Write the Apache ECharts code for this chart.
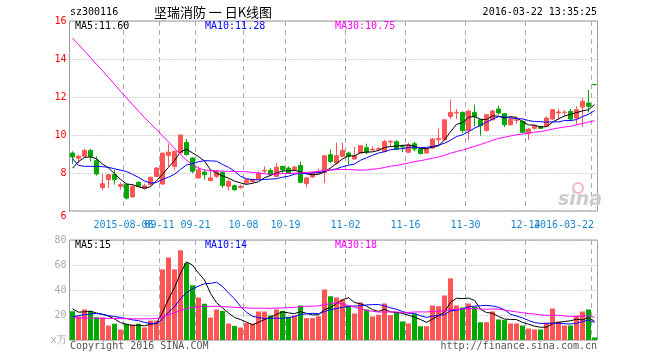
<!DOCTYPE html>
<html><head><meta charset="utf-8">
<script src="https://cdn.jsdelivr.net/npm/echarts@6/dist/echarts.min.js"></script>
<style>html,body{margin:0;padding:0;background:#fff}#c{width:660px;height:360px}</style>
</head><body><div id="c"></div>
<script>
const dates = [
"2015-07-24","2015-07-27","2015-07-28","2015-07-29","2015-07-30","2015-07-31","2015-08-03","2015-08-04","2015-08-05","2015-08-06",
"2015-09-02","2015-09-07","2015-09-08","2015-09-09","2015-09-10",
"2015-09-11","2015-09-14","2015-09-15","2015-09-16","2015-09-17","2015-09-18","2015-09-21",
"2015-09-22","2015-09-23","2015-09-24","2015-09-25","2015-09-28","2015-09-29","2015-09-30",
"2015-10-08","2015-10-09","2015-10-12","2015-10-13","2015-10-14","2015-10-15","2015-10-16",
"2015-10-19","2015-10-20","2015-10-21","2015-10-22","2015-10-23","2015-10-26","2015-10-27","2015-10-28","2015-10-29","2015-10-30",
"2015-11-02","2015-11-03","2015-11-04","2015-11-05","2015-11-06","2015-11-09","2015-11-10","2015-11-11","2015-11-12","2015-11-13",
"2015-11-16","2015-11-17","2015-11-18","2015-11-19","2015-11-20","2015-11-23","2015-11-24","2015-11-25","2015-11-26","2015-11-27",
"2015-11-30","2015-12-01","2015-12-02","2015-12-03","2015-12-04","2015-12-07","2015-12-08","2015-12-09","2015-12-10","2015-12-11",
"2015-12-14","2015-12-15","2015-12-16","2015-12-17","2015-12-18","2015-12-21","2015-12-22","2015-12-23","2015-12-24","2015-12-25",
"2015-12-28","2016-03-22"];

const opens = [9.05,8.77,8.88,9.19,8.65,7.23,7.65,7.91,7.30,7.39,
6.74,7.51,7.19,7.39,7.82,7.42,8.93,8.35,9.05,9.61,
8.79,7.74,8.05,7.60,7.82,8.03,7.30,7.33,7.24,7.47,
7.55,7.68,8.10,8.14,7.82,8.35,8.26,8.17,8.39,7.44,
7.79,8.00,8.03,8.96,8.53,8.88,9.05,8.74,9.05,9.33,
9.21,9.25,9.14,9.63,9.65,9.40,9.09,9.54,9.26,9.05,
9.31,9.75,9.75,10.98,11.16,11.19,10.24,11.19,10.80,10.24,
10.80,11.37,11.12,10.54,10.77,10.72,10.10,10.35,10.45,10.45,
10.84,11.16,11.19,11.24,10.89,11.47,11.68,12.65];
const closes = [8.84,8.88,9.19,8.88,7.95,7.44,7.91,7.65,7.40,6.68,
7.30,7.30,7.33,7.77,8.26,9.05,9.10,9.14,10.00,8.96,
8.09,8.17,7.91,7.74,8.09,7.35,7.56,7.12,7.30,7.65,
7.65,8.00,8.14,7.91,8.31,8.17,8.00,8.31,7.51,7.74,
8.00,8.09,8.91,8.61,8.91,9.19,8.88,8.91,9.44,9.09,
9.25,9.28,9.65,9.67,9.26,9.37,9.47,9.26,9.02,9.26,
9.79,9.82,10.80,11.19,11.20,10.24,11.26,10.98,10.49,11.07,
11.26,11.16,10.54,10.84,10.80,10.14,10.31,10.49,10.35,10.89,
11.33,11.21,11.20,10.84,11.33,11.77,11.51,12.65];
const lows = [8.47,8.53,8.84,8.61,7.86,7.09,7.21,7.39,7.12,6.60,
6.72,7.26,7.12,7.33,7.79,7.37,8.35,8.17,9.05,8.93,
8.00,7.70,7.65,7.56,7.74,7.21,7.09,7.07,7.16,7.39,
7.47,7.65,8.00,7.86,7.79,8.00,7.96,8.09,7.47,7.24,
7.74,7.95,7.47,8.53,8.44,8.84,8.44,8.70,9.02,8.98,
9.14,9.16,9.09,9.40,9.23,9.10,9.05,9.14,8.98,9.02,
9.28,9.45,9.70,10.84,10.84,10.10,9.75,10.45,9.96,10.19,
10.77,11.07,10.42,10.49,10.60,10.10,9.75,10.28,10.31,10.42,
10.80,10.80,10.98,10.72,10.54,10.42,11.19,12.65];
const highs = [9.14,8.96,9.26,9.26,8.88,7.95,7.91,8.17,7.51,7.47,
7.39,7.56,7.44,7.82,8.30,9.05,9.54,9.19,10.00,9.79,
8.82,8.35,8.17,8.17,8.17,8.09,7.65,7.39,7.39,7.68,
7.68,8.09,8.35,8.26,8.52,8.35,8.35,8.39,8.60,7.79,
8.09,8.21,8.91,9.23,9.58,9.61,9.12,9.37,9.44,9.54,
9.40,9.37,9.75,9.72,9.72,9.49,9.58,9.65,9.31,9.30,
9.84,10.35,10.80,11.86,11.37,11.24,11.33,11.60,10.84,11.07,
11.33,11.54,11.16,10.98,10.98,10.77,10.37,10.54,10.49,10.98,
11.37,11.37,11.30,11.37,11.51,11.95,12.38,12.65];

const ma5 = [8.25,8.60,8.82,8.85,8.75,8.47,8.27,7.96,7.67,7.42,
7.39,7.27,7.20,7.28,7.59,7.94,8.30,8.66,9.11,9.25,
9.06,8.87,8.63,8.17,8.00,7.85,7.73,7.57,7.48,7.40,
7.46,7.54,7.75,7.87,8.00,8.11,8.11,8.14,8.06,7.95,
7.91,7.93,8.05,8.27,8.50,8.74,8.90,8.90,9.07,9.10,
9.11,9.19,9.34,9.39,9.42,9.45,9.48,9.41,9.28,9.28,
9.36,9.43,9.74,10.17,10.56,10.65,10.94,10.97,10.83,10.81,
11.01,10.99,10.90,10.97,10.92,10.70,10.53,10.52,10.42,10.44,
10.67,10.85,11.00,11.09,11.18,11.27,11.33,11.60];
const ma10 = [8.75,8.40,8.35,8.35,8.35,8.33,8.30,8.22,8.15,8.08,
7.93,7.77,7.58,7.47,7.50,7.67,7.78,7.93,8.19,8.42,
8.50,8.59,8.65,8.64,8.62,8.45,8.30,8.10,7.83,7.70,
7.65,7.64,7.66,7.68,7.70,7.78,7.83,7.94,7.97,7.97,
8.01,8.02,8.09,8.16,8.22,8.33,8.41,8.47,8.67,8.80,
8.93,9.05,9.12,9.23,9.26,9.28,9.34,9.37,9.33,9.35,
9.40,9.46,9.57,9.72,9.92,10.01,10.18,10.36,10.50,10.68,
10.83,10.97,10.94,10.90,10.86,10.85,10.76,10.71,10.70,10.68,
10.69,10.69,10.76,10.76,10.81,10.97,11.09,11.28];
const ma30 = [15.10,14.76,14.42,14.07,13.72,13.38,13.03,12.67,12.31,11.96,
11.60,11.26,10.92,10.60,10.28,9.96,9.63,9.30,8.98,8.68,
8.44,8.25,8.16,8.13,8.11,8.10,8.09,8.08,8.07,8.07,
8.03,8.00,7.96,7.93,7.94,7.97,7.97,7.99,8.00,8.03,
8.05,8.08,8.13,8.16,8.18,8.19,8.18,8.17,8.15,8.16,
8.20,8.23,8.29,8.36,8.39,8.46,8.53,8.60,8.65,8.71,
8.78,8.84,8.93,9.04,9.13,9.20,9.31,9.40,9.50,9.61,
9.72,9.82,9.88,9.95,10.01,10.05,10.09,10.15,10.18,10.24,
10.31,10.37,10.42,10.46,10.53,10.61,10.68,10.75];

const volumes = [23,19,24.4,23.3,18.3,18,11.6,13,8.4,12.7,
12.3,13,10,15.5,15.5,56.5,66,56.5,71.8,61.5,
43.8,34,29,18,24.4,23.3,13.2,11.3,10,13.5,
13,22.8,22.8,19.6,24.4,23.3,18.5,19.6,27.6,17.5,
17.5,19,40.4,35,34,32.4,27.3,21.2,30,24.4,
18.8,20.2,29.2,19.8,22.3,14.8,13.2,20.7,11,11,
27.6,27,35.6,49.3,27.6,26,29.2,26.5,14.2,14.2,
22.8,16.4,15.9,13.2,13.2,11.6,9.2,8.5,8.4,13.8,
25.2,14.8,11.6,11.6,19.6,22.8,24.4,2];
const vma5 = [24.9,22.3,22.5,23.0,21.6,20.6,19.1,16.8,13.9,12.7,
11.6,11.9,11.3,12.7,13.3,22.1,32.7,42.0,53.3,62.5,
59.9,53.5,48.0,37.3,29.8,25.7,21.6,18.0,16.4,14.3,
12.2,14.1,16.4,18.3,20.5,22.6,21.7,21.1,22.7,21.3,
20.1,20.2,24.4,25.9,29.2,32.2,33.8,30.0,29.0,27.1,
24.3,22.9,24.5,22.5,22.1,21.3,19.9,18.2,16.4,14.1,
16.7,19.5,22.4,30.1,33.4,33.1,33.5,31.7,24.7,22.0,
21.4,18.8,16.7,16.5,16.3,14.1,12.6,11.1,10.2,10.3,
13.0,14.1,14.8,15.4,16.6,16.1,18.0,15.0];
const vma10 = [18.5,19.5,20.3,20.8,21.2,20.5,19.5,18.8,18.0,17.2,
16.1,15.5,14.1,13.3,13.0,16.9,22.3,26.6,33.0,37.9,
41.0,43.1,45.0,45.3,46.2,42.8,37.6,33.0,26.9,22.1,
19.0,17.9,17.2,17.4,17.4,17.4,17.9,18.8,20.5,20.9,
21.4,21.0,22.7,24.3,25.2,26.2,27.0,27.2,27.4,28.1,
28.3,28.4,27.3,25.7,24.6,22.8,21.4,21.3,19.4,18.1,
19.0,19.7,20.3,23.3,23.8,24.9,26.5,27.1,27.4,27.7,
27.2,26.2,24.2,20.6,19.2,17.7,15.7,13.9,13.3,13.3,
13.5,13.4,13.0,12.8,13.4,14.6,16.1,14.0];
const vma30 = [17.8,17.6,17.6,17.5,17.4,17.4,17.3,17.2,17.1,17.0,
17.0,16.9,16.9,17.0,17.2,18.6,20.3,21.8,23.6,25.2,
26.0,26.6,27.0,26.9,27.0,26.8,26.4,26.1,25.9,25.7,
25.4,25.5,25.4,25.3,25.5,25.7,25.9,26.1,26.8,26.9,
27.1,27.3,28.3,29.0,29.6,28.8,27.5,26.3,24.9,23.7,
22.9,22.4,22.4,22.5,22.4,22.1,22.1,22.4,22.5,22.4,
22.9,23.0,23.4,24.4,24.5,24.6,25.0,25.2,24.8,24.6,
24.8,24.7,23.9,23.2,22.5,21.8,21.2,20.8,20.1,19.7,
19.9,19.7,19.2,18.9,18.8,19.1,19.4,18.0];

const gridIdx = [9,15,21,29,36,46,56,66,76,87];
const shortLabelIdx = [15,21,29,36,46,56,66,76];
const fullDateLabelIdx = [9,87];
const priceAxis = {min:6, max:16, step:2};
const volAxis = {min:0, max:80, step:20};
const headerTexts = {code:'sz300116', title:'坚瑞消防 一 日K线图', time:'2016-03-22 13:35:25'};
const priceLegend = ['MA5:11.60','MA10:11.28','MA30:10.75'];
const volLegend = ['MA5:15','MA10:14','MA30:18'];

const UP = '#ff5555', DOWN = '#00a800';
const C5 = '#000000', C10 = '#0000ff', C30 = '#ff00ff';
const MONO = '"DejaVu Sans Mono", monospace';
const GRID = '#aaaaaa', FRAME = '#999999';

const isDown = i => closes[i] <= opens[i];
const candleData = opens.map((o, i) => {
  const v = [o, closes[i], lows[i], highs[i]];
  if (o === closes[i]) return {value: v, itemStyle: {color: DOWN, borderColor: DOWN, color0: DOWN, borderColor0: DOWN}};
  return v;
});
const volData = volumes.map((v, i) => ({value: v, itemStyle: {color: isDown(i) ? DOWN : UP}}));

const xLabelColor = '#1b86d0';
const lineS = (name, data, color, xi, yi) => ({
  name, type: 'line', data, xAxisIndex: xi, yAxisIndex: yi, showSymbol: false, symbol: 'none',
  lineStyle: {color, width: 1}, itemStyle: {color}, z: 5, silent: true, animation: false
});
const labelRich = {
  c: {padding: [0, 6, 0, 0], fontFamily: MONO, fontSize: 10, color: xLabelColor},
  r: {padding: [0, 61, 0, 0], fontFamily: MONO, fontSize: 10, color: xLabelColor}
};
const fmtLabel = (val) => {
  const idx = dates.indexOf(val);
  if (idx === dates.length - 1) return '{r|' + val + '}';
  if (fullDateLabelIdx.includes(idx)) return '{c|' + val + '}';
  return '{c|' + val.slice(5) + '}';
};
const labelAxis = (idxList, withSplit) => ({
  type: 'category', gridIndex: 0, position: 'bottom', offset: 0, data: dates, boundaryGap: true,
  axisLine: {show: false}, axisTick: {show: false},
  axisLabel: {interval: (i) => idxList.includes(i), hideOverlap: false, margin: 9,
    fontFamily: MONO, fontSize: 10, color: xLabelColor, formatter: fmtLabel, rich: labelRich},
  splitLine: withSplit ? {show: true, interval: (i) => gridIdx.includes(i), lineStyle: {color: GRID, width: 1, type: [5, 4]}} : {show: false}
});

const chart = echarts.init(document.getElementById('c'), null, {renderer: 'canvas'});
const txt = (text, x, y, color, align, font) => ({
  type: 'text', x, y, silent: true, z: 10,
  style: {text, fill: color, font: font || ('10px ' + MONO), align: align || 'left', verticalAlign: 'middle'}
});

chart.setOption({
  animation: false,
  backgroundColor: '#ffffff',
  grid: [
    {left: 69.5, top: 21, width: 528, height: 190, show: true, borderColor: FRAME, borderWidth: 1, backgroundColor: 'transparent'},
    {left: 69.5, top: 240, width: 528, height: 100, show: true, borderColor: FRAME, borderWidth: 1, backgroundColor: 'transparent'}
  ],
  xAxis: [
    labelAxis(shortLabelIdx, true),
    {type: 'category', gridIndex: 1, data: dates, boundaryGap: true,
      axisLine: {show: false}, axisTick: {show: false}, axisLabel: {show: false},
      splitLine: {show: true, interval: (i) => gridIdx.includes(i), lineStyle: {color: GRID, width: 1, type: [5, 4]}}
    },
    labelAxis(fullDateLabelIdx, false)
  ],
  yAxis: [
    {type: 'value', gridIndex: 0, min: priceAxis.min, max: priceAxis.max, interval: priceAxis.step, scale: false,
      axisLine: {show: false}, axisTick: {show: false},
      axisLabel: {margin: 3, fontFamily: MONO, fontSize: 10, color: '#ff0000',
        formatter: v => v === priceAxis.min ? '{d|' + v + '}' : '{n|' + v + '}',
        rich: {d: {padding: [10, 0, 0, 0], fontFamily: MONO, fontSize: 10, color: '#ff0000'},
               n: {fontFamily: MONO, fontSize: 10, color: '#ff0000'}}},
      splitLine: {show: true, lineStyle: {color: GRID, width: 1, type: [1, 2]}}
    },
    {type: 'value', gridIndex: 1, min: volAxis.min, max: volAxis.max, interval: volAxis.step,
      axisLine: {show: false}, axisTick: {show: false},
      axisLabel: {margin: 3, fontFamily: MONO, fontSize: 10, color: '#aaaaaa',
        formatter: v => v === 0 ? 'x万' : String(v)},
      splitLine: {show: true, lineStyle: {color: GRID, width: 1, type: [1, 2]}}
    }
  ],
  series: [
    {name: 'K', type: 'candlestick', xAxisIndex: 0, yAxisIndex: 0, data: candleData, barWidth: 4,
      itemStyle: {color: UP, color0: DOWN, borderColor: UP, borderColor0: DOWN, borderWidth: 1}, z: 3, silent: true},
    lineS('MA5', ma5, C5, 0, 0),
    lineS('MA10', ma10, C10, 0, 0),
    lineS('MA30', ma30, C30, 0, 0),
    {name: 'VOL', type: 'bar', xAxisIndex: 1, yAxisIndex: 1, data: volData, barWidth: 5, z: 3, silent: true},
    lineS('VMA5', vma5, C5, 1, 1),
    lineS('VMA10', vma10, C10, 1, 1),
    lineS('VMA30', vma30, C30, 1, 1)
  ],
  graphic: [
    txt(headerTexts.code, 70, 12.5, '#000'),
    txt(headerTexts.title, 213, 12, '#000', 'center', '13px "Noto Sans CJK SC"'),
    txt(headerTexts.time, 597, 12.5, '#000', 'right'),
    txt(priceLegend[0], 75, 26.5, C5),
    txt(priceLegend[1], 205, 26.5, C10),
    txt(priceLegend[2], 335, 26.5, C30),
    txt(volLegend[0], 75, 245.5, C5),
    txt(volLegend[1], 205, 245.5, C10),
    txt(volLegend[2], 335, 245.5, C30),
    txt('Copyright 2016 SINA.COM', 70, 346.5, '#555'),
    txt('http://finance.sina.com.cn', 597, 346.5, '#555', 'right'),
    {type: 'circle', shape: {cx: 578, cy: 188, r: 5}, style: {fill: 'none', stroke: '#f3b8b8', lineWidth: 2}, silent: true, z: 1},
    txt('sina', 580, 200, '#cccccc', 'center', 'italic bold 19px "DejaVu Sans"')
  ]
});
</script></body></html>
